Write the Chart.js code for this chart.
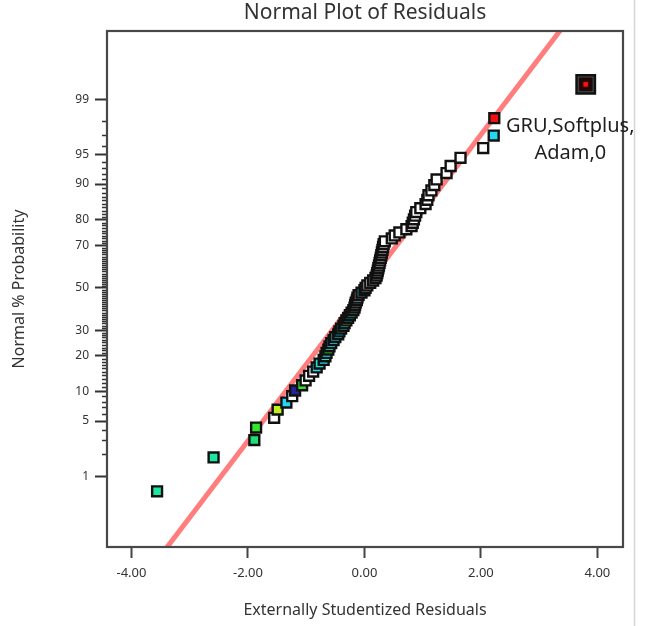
<!DOCTYPE html>
<html>
<head>
<meta charset="utf-8">
<script src="https://cdn.jsdelivr.net/npm/chart.js@4.4.1/dist/chart.umd.min.js"></script>
<style>
html,body{margin:0;padding:0;background:#ffffff;}
#wrap{width:646px;height:626px;position:relative;}
</style>
</head>
<body>
<div id="wrap"><canvas id="c" width="646" height="626"></canvas></div>
<script>
// ---------------- data ----------------
const residuals = [
  -3.56, -2.59, -1.89, -1.86, -1.55, -1.49, -1.34, -1.24, -1.19, -1.07,
  -1.01, -0.95, -0.88, -0.82, -0.77, -0.70, -0.67, -0.65, -0.62, -0.60,
  -0.57, -0.53, -0.50, -0.45, -0.43, -0.40, -0.36, -0.34, -0.31, -0.28,
  -0.25, -0.22, -0.19, -0.17, -0.16, -0.15, -0.13, -0.12, -0.10, -0.05,
   0.00,  0.02,  0.05,  0.10,  0.15,  0.19,  0.21,  0.22,  0.23,  0.24,
   0.25,  0.26,  0.27,  0.28,  0.29,  0.30,  0.31,  0.32,  0.33,  0.35,
   0.47,  0.52,  0.60,  0.72,  0.81,  0.83,  0.85,  0.87,  0.89,  0.96,
   1.05,  1.08,  1.10,  1.15,  1.20,  1.24,  1.41,  1.48,  1.65,  2.04,
   2.22,  2.23,  3.80
];
const probability = [
   0.60,  1.81,  3.01,  4.22,  5.42,  6.63,  7.83,  9.04, 10.24, 11.45,
  12.65, 13.86, 15.06, 16.27, 17.47, 18.67, 19.88, 21.08, 22.29, 23.49,
  24.70, 25.90, 27.11, 28.31, 29.52, 30.72, 31.93, 33.13, 34.34, 35.54,
  36.75, 37.95, 39.16, 40.36, 41.57, 42.77, 43.98, 45.18, 46.39, 47.59,
  48.80, 50.00, 51.20, 52.41, 53.61, 54.82, 56.02, 57.23, 58.43, 59.64,
  60.84, 62.05, 63.25, 64.46, 65.66, 66.87, 68.07, 69.28, 70.48, 71.69,
  72.89, 74.10, 75.30, 76.51, 77.71, 78.92, 80.12, 81.33, 82.53, 83.73,
  84.94, 86.14, 87.35, 88.55, 89.76, 90.96, 92.17, 93.37, 94.58, 95.78,
  96.99, 98.19, 99.40
];
const pointColors = [
  '#1de6a4','#1de6a4','#22dc78','#33e62a','#ffffff','#bdf01e','#22d8f0','#ffffff','#22229a','#2ee22a',
  '#ffffff','#ffffff','#ffffff','#22d8f0','#20e0c8','#22d8f0','#20e0c8','#22d8f0','#2ee22a','#20e0c8',
  '#22d8f0','#22d8f0','#20e0c8','#22d8f0','#22d8f0','#20e0c8','#22d8f0','#22d8f0','#e6f21a','#20e0c8',
  '#22d8f0','#20e0c8','#ffffff','#20e0c8','#ffffff','#ffffff','#22d8f0','#ffffff','#e06a6a','#22d8f0',
  '#22d8f0','#ffffff','#ffffff','#ffffff','#ffffff','#ffffff','#ffffff','#ffffff','#ffffff','#ffffff',
  '#ffffff','#ffffff','#ffffff','#ffffff','#ffffff','#ffffff','#ffffff','#ffffff','#ffffff','#ffffff',
  '#ffffff','#ffffff','#ffffff','#ffffff','#ffffff','#ffffff','#ffffff','#ffffff','#ffffff','#ffffff',
  '#ffffff','#ffffff','#ffffff','#ffffff','#ffffff','#ffffff','#ffffff','#ffffff','#ffffff','#ffffff',
  '#22d8f0','#f01010','#4a4a4a'
];
const fitLineResidual = [-3.5, 3.5];
const fitLinePercent = [0.047, 99.953];
const xTicks = [-4, -2, 0, 2, 4];
const yTicks = [1, 5, 10, 20, 30, 50, 70, 80, 90, 95, 99];
const yMinorTicks = Array.from({length: 99}, (_, i) => i + 1);
const xRange = [-4.42, 4.44];
const yRangePercent = [0.0687, 99.924];
const outlierIndex = 82;
const labelIndex = 81;
const pointLabel = ['GRU,Softplus,', 'Adam,0'];
const titleText = 'Normal Plot of Residuals';
const xTitle = 'Externally Studentized Residuals';
const yTitle = 'Normal % Probability';

// ---------------- probability (probit) scale ----------------
function probit(p) {
  const a=[-3.969683028665376e+01,2.209460984245205e+02,-2.759285104469687e+02,1.383577518672690e+02,-3.066479806614716e+01,2.506628277459239e+00];
  const b=[-5.447609879822406e+01,1.615858368580409e+02,-1.556989798598866e+02,6.680131188771972e+01,-1.328068155288572e+01];
  const c=[-7.784894002430293e-03,-3.223964580411365e-01,-2.400758277161838e+00,-2.549732539343734e+00,4.374664141464968e+00,2.938163982698783e+00];
  const d=[7.784695709041462e-03,3.224671290700398e-01,2.445134137142996e+00,3.754408661907416e+00];
  const pl = 0.02425, ph = 1 - pl;
  let q, r;
  if (p < pl) { q = Math.sqrt(-2*Math.log(p)); return (((((c[0]*q+c[1])*q+c[2])*q+c[3])*q+c[4])*q+c[5])/((((d[0]*q+d[1])*q+d[2])*q+d[3])*q+1); }
  if (p <= ph) { q = p - 0.5; r = q*q; return (((((a[0]*r+a[1])*r+a[2])*r+a[3])*r+a[4])*r+a[5])*q/(((((b[0]*r+b[1])*r+b[2])*r+b[3])*r+b[4])*r+1); }
  q = Math.sqrt(-2*Math.log(1-p)); return -(((((c[0]*q+c[1])*q+c[2])*q+c[3])*q+c[4])*q+c[5])/((((d[0]*q+d[1])*q+d[2])*q+d[3])*q+1);
}
const BaseLinear = Chart.LinearScale || Chart.registry.getScale('linear');
class ProbabilityScale extends BaseLinear {
  determineDataLimits() {
    this.min = probit(this.options.min / 100);
    this.max = probit(this.options.max / 100);
  }
  buildTicks() { return yTicks.map(v => ({value: v})); }
  getPixelForValue(v) { return super.getPixelForValue(probit(v / 100)); }
}
ProbabilityScale.id = 'probability';
ProbabilityScale.defaults = BaseLinear.defaults;
Chart.register(ProbabilityScale);

Chart.defaults.font.family = "'Noto Sans', 'DejaVu Sans', sans-serif";
Chart.defaults.color = '#333333';

// ---------------- drawing helpers (plugin) ----------------
const decorPlugin = {
  id: 'decor',
  beforeDraw(chart) {
    const ctx = chart.ctx;
    ctx.save();
    ctx.fillStyle = '#ffffff';
    ctx.fillRect(0, 0, chart.width, chart.height);
    ctx.restore();
  },
  afterDraw(chart) {
    const ctx = chart.ctx, area = chart.chartArea, ys = chart.scales.y;
    ctx.save();
    // minor probability ticks
    ctx.strokeStyle = '#333333';
    ctx.lineWidth = 1.6;
    ctx.beginPath();
    yMinorTicks.forEach(p => {
      if (yTicks.includes(p)) return;
      const py = Math.round(ys.getPixelForValue(p)) + 0.5;
      ctx.moveTo(area.left - 5, py);
      ctx.lineTo(area.left, py);
    });
    ctx.stroke();
    // plot frame
    ctx.strokeStyle = '#484848';
    ctx.lineWidth = 2.2;
    ctx.strokeRect(area.left, area.top, area.right - area.left, area.bottom - area.top);
    // screenshot edge line
    ctx.strokeStyle = '#d4d4d4';
    ctx.lineWidth = 1.5;
    ctx.beginPath();
    ctx.moveTo(634.5, 0);
    ctx.lineTo(634.5, chart.height);
    ctx.stroke();
    // point label
    const meta = chart.getDatasetMeta(1);
    const pt = meta.data[labelIndex];
    ctx.fillStyle = '#1e1e1e';
    ctx.font = "20px 'Noto Sans', 'DejaVu Sans', sans-serif";
    ctx.textAlign = 'center';
    ctx.textBaseline = 'alphabetic';
    ctx.fillText(pointLabel[0], pt.x + 76, pt.y + 14);
    ctx.fillText(pointLabel[1], pt.x + 76, pt.y + 41);
    ctx.restore();
  }
};

const pts = residuals.map((x, i) => ({x: x, y: probability[i]}));
const outlierPt = [{x: residuals[outlierIndex], y: probability[outlierIndex]}];

new Chart(document.getElementById('c'), {
  type: 'scatter',
  data: {
    datasets: [
      {
        type: 'line',
        data: fitLineResidual.map((x, i) => ({x: x, y: fitLinePercent[i]})),
        borderColor: '#ff7d7d',
        borderWidth: 5,
        pointRadius: 0,
        fill: false,
        clip: 0,
        order: 10
      },
      {
        data: pts,
        pointStyle: 'rect',
        pointRadius: residuals.map((_, i) => i === outlierIndex ? 13 : 7),
        pointBackgroundColor: pointColors,
        pointBorderColor: '#111111',
        pointBorderWidth: residuals.map((_, i) => i === outlierIndex ? 2.5 : 2.4),
        order: 2
      },
      {
        data: outlierPt,
        pointStyle: 'rect',
        pointRadius: 9,
        pointBackgroundColor: '#1e0808',
        pointBorderColor: '#1e0808',
        pointBorderWidth: 1,
        order: 1
      },
      {
        data: outlierPt,
        pointStyle: 'rect',
        pointRadius: 4,
        pointBackgroundColor: '#f41414',
        pointBorderColor: '#400000',
        pointBorderWidth: 1,
        order: 0
      }
    ]
  },
  options: {
    responsive: false,
    animation: false,
    events: [],
    layout: {padding: {left: 0, right: 23, top: 0, bottom: 0}},
    plugins: {
      legend: {display: false},
      tooltip: {enabled: false},
      title: {
        display: true,
        text: titleText,
        fullSize: false,
        color: '#333333',
        font: {size: 21, weight: 'normal'},
        padding: {top: 0, bottom: 5.8}
      }
    },
    scales: {
      x: {
        type: 'linear',
        min: xRange[0],
        max: xRange[1],
        afterBuildTicks: s => { s.ticks = xTicks.map(v => ({value: v})); },
        afterFit: s => { s.height = 79; },
        grid: {drawOnChartArea: false, drawTicks: true, tickLength: 11, tickWidth: 2, tickColor: '#444444'},
        border: {display: false},
        ticks: {callback: v => Number(v).toFixed(2), padding: 7, color: '#333333', font: {size: 13}, maxRotation: 0},
        title: {display: true, text: xTitle, color: '#333333', font: {size: 16}, padding: {top: 0, bottom: 6}}
      },
      y: {
        type: 'probability',
        min: yRangePercent[0],
        max: yRangePercent[1],
        afterFit: s => { s.width = 107; },
        grid: {drawOnChartArea: false, drawTicks: true, tickLength: 12, tickWidth: 2, tickColor: '#333333'},
        border: {display: false},
        ticks: {callback: v => String(v), padding: 6, color: '#333333', font: {size: 12}, autoSkip: false},
        title: {display: true, text: yTitle, color: '#333333', font: {size: 16}, padding: {top: 10, bottom: 0}}
      }
    }
  },
  plugins: [decorPlugin]
});
</script>
</body>
</html>
